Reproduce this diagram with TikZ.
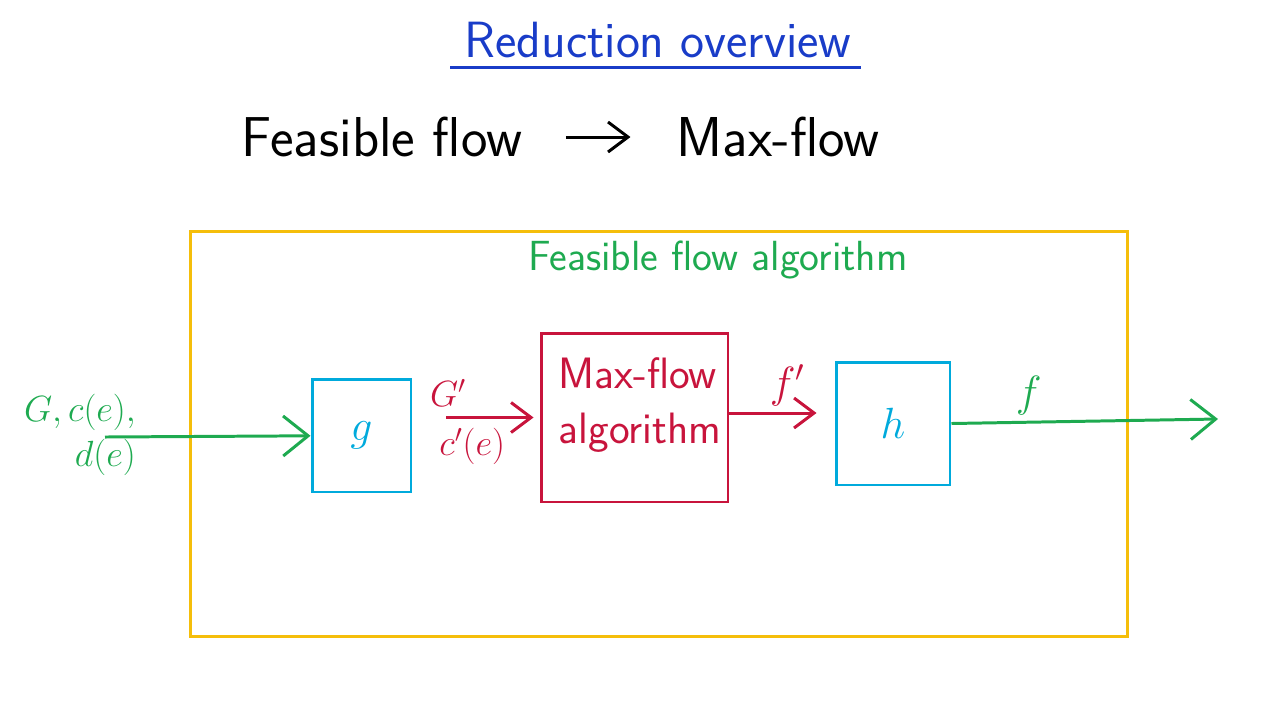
\documentclass[tikz,border=0pt]{standalone}
\usetikzlibrary{positioning,arrows.meta}
\definecolor{titleblue}{RGB}{25,60,200}
\definecolor{flowgreen}{RGB}{30,170,80}
\definecolor{boxcyan}{RGB}{0,170,220}
\definecolor{algred}{RGB}{200,20,60}
\definecolor{frameyellow}{RGB}{245,190,10}
\newcommand{\Gnew}{\ensuremath{G'}}
\newcommand{\cnew}{\ensuremath{c'(e)}}
\newcommand{\fnew}{\ensuremath{f'}}
\tikzset{
  box/.style={draw, line width=1.7pt, inner sep=0pt},
  flow/.style={line width=1.7pt, -{Straight Barb[length=0.5cm,width=0.8cm]}},
  thin flow/.style={line width=1.7pt, -{Straight Barb[length=0.4cm,width=0.6cm]}},
  hand/.style={font=\sffamily\fontsize{24}{28}\selectfont},
  big/.style={font=\sffamily\fontsize{32}{36}\selectfont},
  letter/.style={font=\fontsize{32}{32}\selectfont}
}

\begin{document}
\begin{tikzpicture}[x=0.02cm, y=-0.02cm]
  \useasboundingbox (0,0) rectangle (1280,718);
  \node [titleblue, font=\sffamily\fontsize{29}{32}\selectfont, inner sep=3pt] (title) at (658,40) {Reduction overview};
  \draw [titleblue, line width=1.7pt] ([xshift=-5pt, yshift=-2pt]title.south west) -- ([xshift=2pt, yshift=-2pt]title.south east);

  \node [big] (feas) at (382,137) {Feasible flow};
  \node [big] (maxf) at (778,137) {Max-flow};
  \draw [thin flow, shorten <=0.75cm, shorten >=0.8cm] (feas) -- (maxf);

  \node [box, draw=frameyellow, minimum width=18.76cm, minimum height=8.12cm] (frame) at (659,434) {};
  \node [hand, flowgreen] (algo) at (718,260) {Feasible flow algorithm};

  \node [box, boxcyan, letter, minimum width=1.98cm, minimum height=2.26cm] (g) at (361.5,435.5) {$g$};
  \node [box, algred, minimum width=3.74cm, minimum height=3.38cm] (maxflow) at (634.5,417.5) {};
  \node [hand, algred, align=left, font=\sffamily\fontsize{25}{31}\selectfont] (mfname) at (640,405) {Max-flow\\algorithm};
  \node [box, boxcyan, letter, minimum width=2.28cm, minimum height=2.46cm] (h) at (893,423.5) {$h$};

  \node [flowgreen, align=right, font=\fontsize{20}{26}\selectfont, anchor=east] (input) at (142,435) {$G, c(e),$\\$d(e)$};
  \coordinate (in) at (105,437);
  \coordinate (out) at (1218,419);

  \draw [flow, flowgreen] (in) -- (g);
  \draw [thin flow, algred, shorten <=0.68cm, shorten >=0.12cm] (g.east |- maxflow.west) --
    node [pos=0.28, above=2pt, font=\fontsize{22}{22}\selectfont] {\Gnew}
    node [pos=0.47, below=2pt, font=\fontsize{20}{20}\selectfont] {\cnew} (maxflow.west);
  \draw [thin flow, algred, shorten >=0.36cm] ([yshift=0.09cm]maxflow.east) --
    node [pos=0.55, above, font=\fontsize{24}{24}\selectfont] {\fnew} ([yshift=0.09cm]maxflow.east -| h.west);
  \draw [flow, flowgreen] (h.east) -- node [pos=0.29, above, font=\fontsize{24}{24}\selectfont] {$f$} (out);
\end{tikzpicture}
\end{document}
